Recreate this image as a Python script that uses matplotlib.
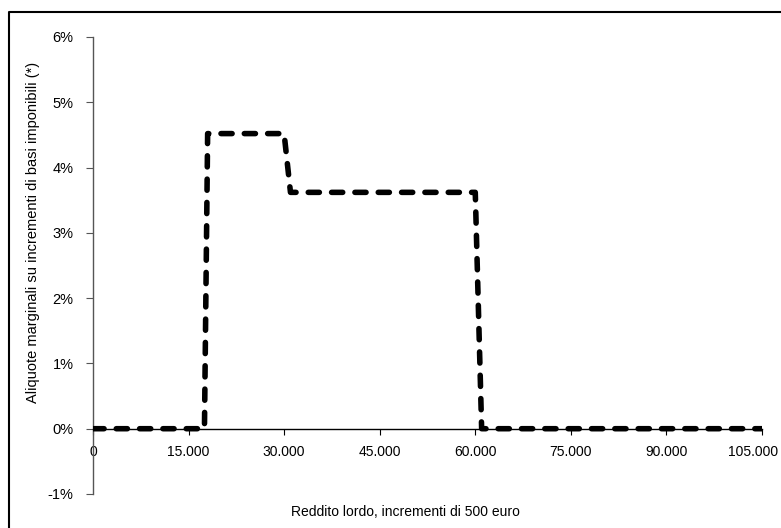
import numpy as np
import matplotlib.pyplot as plt
from matplotlib.lines import Line2D
from matplotlib.ticker import FuncFormatter
from matplotlib.transforms import ScaledTranslation

plt.rcParams['font.family'] = ['Liberation Sans', 'DejaVu Sans']

# reddito lordo (euro) e aliquota marginale (%)
reddito = [0, 17500, 18000, 30000, 31000, 60000, 61000, 105000]
aliquota = [0.0, 0.0, 4.52, 4.52, 3.62, 3.62, 0.0, 0.0]

xticks = [0, 15000, 30000, 45000, 60000, 75000, 90000, 105000]
yticks = [-1, 0, 1, 2, 3, 4, 5, 6]

fig = plt.figure(figsize=(7.81, 5.28), dpi=100)
ax = fig.add_axes([0.119, 0.0644, 0.8567, 0.8656])

ax.plot(reddito, aliquota, color='black', lw=4.0, dashes=(2.0, 2.2),
        solid_capstyle='round', dash_capstyle='round', solid_joinstyle='round',
        dash_joinstyle='round', zorder=3)

ax.set_xlim(0, 105000)
ax.set_ylim(-1, 6)
ax.set_xticks(xticks)
ax.set_yticks(yticks)
ax.xaxis.set_major_formatter(FuncFormatter(lambda v, p: f"{int(v):,}".replace(",", ".")))
ax.yaxis.set_major_formatter(FuncFormatter(lambda v, p: f"{int(v)}%"))

for s in ['top', 'right']:
    ax.spines[s].set_visible(False)
ax.spines['bottom'].set_position(('data', 0))
ax.spines['bottom'].set_color('black')
ax.spines['bottom'].set_linewidth(1.0)
ax.spines['left'].set_color('#555555')
ax.spines['left'].set_linewidth(1.0)

ax.tick_params(axis='x', direction='out', length=4, width=0.8, pad=8, labelsize=10)
ax.tick_params(axis='y', direction='out', length=5, width=0.8, pad=9, labelsize=10.5,
               color='#555555')

# l'ultima etichetta va a sinistra per restare dentro la figura
last = ax.get_xticklabels()[-1]
last.set_transform(last.get_transform() + ScaledTranslation(-9 / 100, 0, fig.dpi_scale_trans))

fig.text(0.0423, 0.559, "Aliquote marginali su incrementi di basi imponibili (*)",
         rotation=90, ha='center', va='center', fontsize=10.5)
fig.text(0.519, 0.030, "Reddito lordo, incrementi di 500 euro",
         ha='center', va='center', fontsize=10)

# cornice: solo bordo sinistro e superiore
fig.lines.append(Line2D([0.0115, 0.0115, 1.0], [0.0, 0.978, 0.978],
                        transform=fig.transFigure, color='black', lw=1.5))

fig.savefig('out.png', dpi=100)
